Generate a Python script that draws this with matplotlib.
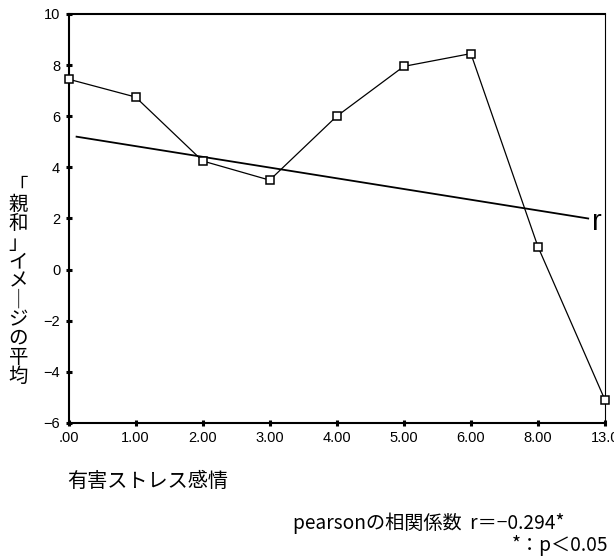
import matplotlib
matplotlib.use('Agg')
import matplotlib.pyplot as plt

plt.rcParams['font.family'] = ['Noto Sans CJK JP', 'DejaVu Sans']
plt.rcParams['axes.unicode_minus'] = False

categories = ['.00', '1.00', '2.00', '3.00', '4.00', '5.00', '6.00', '8.00', '13.0']
means = [7.45, 6.75, 4.25, 3.5, 6.0, 7.95, 8.45, 0.9, -5.1]
trend_x = [0.12, 7.75]
trend_y = [5.2, 2.0]
yticks = [-6, -4, -2, 0, 2, 4, 6, 8, 10]
ylabel = '「親和」イメ｜ジの平均'

fig = plt.figure(figsize=(6.14, 5.59), dpi=100, facecolor='white')
ax = fig.add_axes([0.1116, 0.2433, 0.8737, 0.7317])

x = list(range(len(categories)))
ax.plot(x, means, color='black', linewidth=0.9, marker='s', markersize=6,
        markerfacecolor='white', markeredgecolor='black', markeredgewidth=1.1,
        clip_on=False, zorder=3)
ax.plot(trend_x, trend_y, color='black', linewidth=1.3, zorder=2)
ax.text(7.8, 1.85, 'r', fontsize=21, family=['Liberation Sans'], va='center', ha='left')

ax.set_xlim(0, len(categories) - 1)
ax.set_ylim(-6, 10)
ax.set_xticks(x)
ax.set_xticklabels(categories, family=['Liberation Sans'], fontsize=10.5)
ax.set_yticks(yticks)
ax.set_yticklabels([str(v).replace('-', '−') for v in yticks], family=['Liberation Sans'], fontsize=10.5)
ax.tick_params(direction='inout', length=4, width=2.2, pad=4)

for side in ['left', 'bottom', 'top']:
    ax.spines[side].set_linewidth(1.5)
ax.spines['right'].set_linewidth(0.8)

fig.text(0.03, 0.497, '\n'.join(ylabel), fontsize=14, ha='center', va='center', linespacing=0.88)
fig.text(0.109, 0.138, '有害ストレス感情', fontsize=14.5, ha='left', va='center')
fig.text(0.92, 0.064, 'pearsonの相関係数  r＝−0.294*', fontsize=13.8, ha='right', va='center')
fig.text(0.99, 0.025, '*：p＜0.05', fontsize=13.8, ha='right', va='center')

plt.savefig('out.png', dpi=100, facecolor='white')
